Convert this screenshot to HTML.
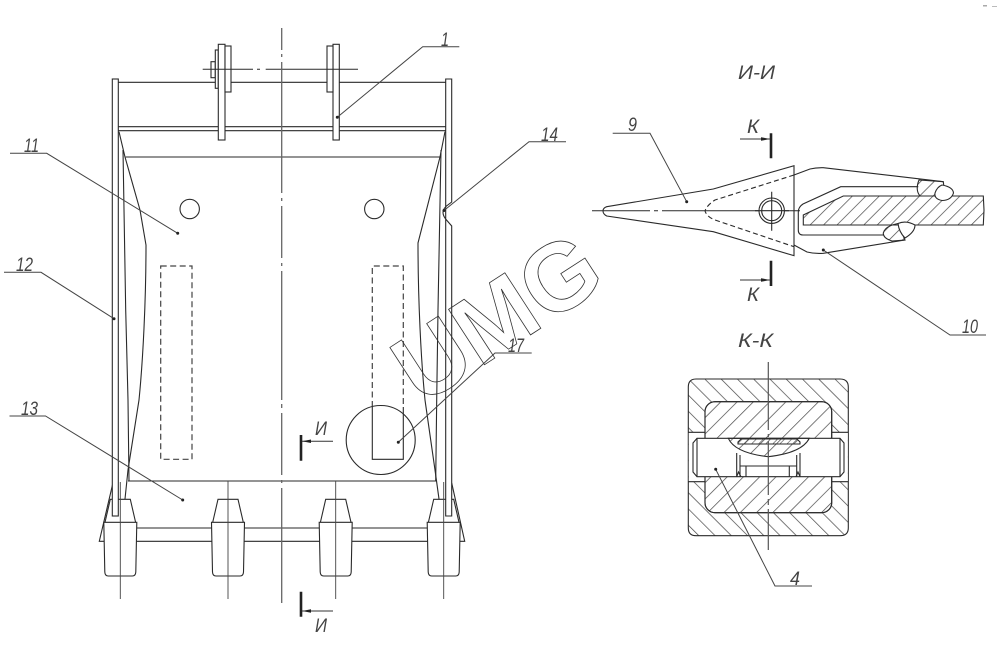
<!DOCTYPE html>
<html><head><meta charset="utf-8"><style>
html,body{margin:0;padding:0;background:#fff}
svg{display:block}
text{font-family:"Liberation Sans",sans-serif;font-style:italic;fill:#444;font-size:19px}
</style></head><body>
<svg width="1000" height="646" viewBox="0 0 1000 646" xmlns="http://www.w3.org/2000/svg">
<defs>
<pattern id="h1" width="9.5" height="9.5" patternUnits="userSpaceOnUse" patternTransform="rotate(45)"><line x1="0" y1="0" x2="0" y2="9.5" stroke="#444" stroke-width="1.4"/></pattern>
<pattern id="h2" width="11.5" height="11.5" patternUnits="userSpaceOnUse" patternTransform="rotate(45)"><line x1="0" y1="0" x2="0" y2="11.5" stroke="#444" stroke-width="1.4"/></pattern>
<pattern id="h3" width="11.5" height="11.5" patternUnits="userSpaceOnUse" patternTransform="rotate(-45)"><line x1="0" y1="0" x2="0" y2="11.5" stroke="#444" stroke-width="1.4"/></pattern>
<pattern id="h4" width="5" height="5" patternUnits="userSpaceOnUse" patternTransform="rotate(45)"><line x1="0" y1="0" x2="0" y2="5" stroke="#444" stroke-width="1.2"/></pattern>
<path id="tooth" d="M-10 499.3H10L15.3 522.3H-15.3ZM-16.5 522.3H16.5L15.5 572Q15.3 576 12 576H-12Q-15.3 576-15.5 572Z" fill="#fff"/>
</defs>
<rect width="1000" height="646" fill="#fff"/>

<!-- bucket -->
<g fill="none" stroke="#2a2a2a" stroke-width="1.1">
<path d="M118 82.3H446M118 126.7H446M118 130.7H446M125.6 157H440"/>
<path d="M112.7 484L99.3 541.3H105M451.7 483L464.7 541.3H459"/>
<path d="M128 481H436M120 528H444M105 541.3H459"/>
<path d="M119 131.7L125 157L140 210L146 245C146 300 143 360 139 400L128 470L125 499"/>
<path d="M445 131.7L440 157L418 243C418 300 421 360 425 400L435 470L439 499"/>
<path d="M123 150L125.7 310L128 400L129 481M441 150L438 310L436.7 400L435.7 481"/>
<circle cx="189.7" cy="209" r="9.7"/><circle cx="374.3" cy="209" r="9.7"/>
<rect x="160.7" y="266" width="31.3" height="193.3" stroke-dasharray="6 3.5" stroke="#444" stroke-width="1.2"/>
<path d="M372.3 407V266H403.3V407" stroke-dasharray="6 3.5" stroke="#444" stroke-width="1.2"/>
<path d="M372.3 407V459.3H403.3V407"/>
<circle cx="380.7" cy="440" r="34.5"/>
<g fill="#fff">
<use href="#tooth" x="120.3" stroke="#2a2a2a"/><use href="#tooth" x="228" stroke="#2a2a2a"/><use href="#tooth" x="335.7" stroke="#2a2a2a"/><use href="#tooth" x="443.7" stroke="#2a2a2a"/>
<rect x="112.3" y="79" width="6" height="437"/>
<path d="M445.7 79H451.7V202L446.5 206Q443 209 443 212.5Q443 216 446.5 220L451.7 226V516H445.7Z"/>
</g>
<path d="M120.3 482V599M228 481V599M335.7 481V599M443.7 482V599" stroke="#444" stroke-width="0.9"/>
<!-- lugs -->
<g fill="#fff">
<rect x="211" y="61.7" width="4.3" height="16"/><rect x="215.3" y="50" width="3" height="38.3"/>
<rect x="218.3" y="44.3" width="6.7" height="95.7"/><rect x="225" y="46" width="6" height="46"/>
<rect x="333" y="44.3" width="6.3" height="95.7"/><rect x="327" y="46" width="6" height="46"/>
</g>
<path d="M202.7 69.3H253M257 69.3H260M265.7 69.3H358" stroke-width="1"/>
<path d="M281.7 28V50M281.7 54V57M281.7 62V193M281.7 198V201M281.7 206V258M281.7 263V266M281.7 271V400M281.7 404V408M281.7 413V475M281.7 480V483M281.7 488V603" stroke="#666" stroke-width="1.3"/>
</g>

<!-- section marks И -->
<g fill="none" stroke="#333" stroke-width="1">
<path d="M301 435V460.7M301 591.7V616.7" stroke-width="2.6" stroke="#222"/>
<path d="M333 441.3H302M333 611H302"/>
</g>
<path d="M302 441.3L311 439.5V443ZM302 611L311 609.2V612.8Z" fill="#222"/>
<text x="315" y="435" textLength="12" lengthAdjust="spacingAndGlyphs">И</text><text x="315" y="632" textLength="12" lengthAdjust="spacingAndGlyphs">И</text>

<!-- adapter -->
<g fill="none" stroke="#2a2a2a" stroke-width="1.1">
<path d="M794 175L810 169Q816 167.5 823.3 167.7L943.3 181.7M794 245L807 252Q815 254 823.3 253.3L905 240"/>
<path d="M803.3 225V215L843.3 196H983.3L984 210L983.3 225Z" fill="url(#h1)"/>
<path d="M918.3 186.7H840.7L803 204Q798.3 207 798.3 212V230Q798.3 235 803 235H883.3"/>
<path d="M919 180L943.3 181.7L945 196H920Q915 190 919 180Z" fill="url(#h1)"/>
<path d="M883.3 233Q885 226 898 223.5L905 240L892 241Q883 238 883.3 233Z" fill="url(#h1)"/>
<path d="M942 185Q953 187 953.5 193Q951 200.5 942 200.5Q934 199 935 193Q937 187 942 185Z" fill="#fff"/>
<path d="M898 223.5Q906 220 915 225Q915 232 905 238Q899 232 898 223.5Z" fill="#fff"/>
<!-- tooth 9 -->
<path d="M606.7 206.7L713.3 189L794 165.7V255.7L713.3 231.7L606.7 216Q603 214 603 211Q603 208 606.7 206.7Z" fill="#fff"/>
<path d="M794 175L715 200Q707 205 705 211Q707 217 715 220L794 246.7" stroke-dasharray="5 3"/>
<path d="M592 210.7H650M654 210.7H658M662 210.7H794M794 210.7H800" stroke-width="1"/>
<circle cx="771.7" cy="210.7" r="12.7" fill="#fff"/><circle cx="771.7" cy="210.7" r="10"/>
<path d="M771.7 191.7V230.7M755 210.7H789"/>
<path d="M771 133.3V158.3M771 260.7V286" stroke-width="2.6" stroke="#222"/>
<path d="M740 139H770M740 280H770" stroke="#333"/>
</g>
<path d="M770 139L761 137.2V140.8ZM770 280L761 278.2V281.8Z" fill="#222"/>
<text x="747" y="133" textLength="12" lengthAdjust="spacingAndGlyphs">К</text><text x="747" y="301" textLength="12" lengthAdjust="spacingAndGlyphs">К</text>

<!-- К-К section -->
<g fill="none" stroke="#2a2a2a" stroke-width="1.1">
<path d="M696 379H840Q848.3 379 848.3 387V528Q848.3 535.7 840 535.7H696Q688.3 535.7 688.3 528V387Q688.3 379 696 379Z" fill="url(#h3)"/>
<rect x="688.8" y="432.3" width="159" height="49.4" fill="#fff" stroke="none"/>
<path d="M688.3 432.3H705M688.3 481.7H705M831.7 432.3H848.3M831.7 481.7H848.3"/>
<rect x="705" y="401.7" width="126.7" height="111" rx="10" fill="#fff"/>
<rect x="705" y="401.7" width="126.7" height="111" rx="10" fill="url(#h2)"/>
<path d="M693 443L697 438.3H840L844 443V472L840 476.7H697L693 472Z" fill="#fff"/>
<path d="M728.3 438.3Q735 453 768.3 456.7Q802 453 809.3 438.3Z" fill="url(#h2)"/>
<path d="M738 442L741 439H797L800 442V444H738Z" fill="url(#h4)"/>
<path d="M736.7 453V476.7M740 455V476.7M796.7 455V476.7M800 453V476.7M740 466H796.7M746 466V476.7M789.3 466V476.7"/>
<path d="M736.7 476.7L738.5 472L741 476.7M796 476.7L798 472L800 476.7"/>
<path d="M697 438.3V476.7M840 438.3V476.7"/>
<path d="M768.3 362V430M768.3 434V437M768.3 441V495M768.3 499V505M768.3 509V550" stroke="#555" stroke-width="1.2"/>
</g>

<!-- leaders -->
<g fill="none" stroke="#444" stroke-width="1">
<path d="M337.3 117.3L422.7 46.7H459.3"/>
<path d="M10 153.3H46.7L177.7 233.3"/>
<path d="M4 272.3H41L114 318.7"/>
<path d="M9.5 416H45.5L182.7 500"/>
<path d="M444 210.5L529 141.7H566"/>
<path d="M398.3 442.3L495 353H531.7"/>
<path d="M686.7 201.7L650 133.3H612.7"/>
<path d="M823.3 250L950 335H986"/>
<path d="M715.7 469.3L775 586H812"/>
</g>
<g fill="#222">
<circle cx="337.3" cy="117.3" r="1.5"/><circle cx="177.7" cy="233.3" r="1.5"/><circle cx="114" cy="318.7" r="1.5"/><circle cx="182.7" cy="500" r="1.5"/><circle cx="444" cy="210.5" r="1.5"/><circle cx="398.3" cy="442.3" r="1.5"/><circle cx="686.7" cy="201.7" r="1.5"/><circle cx="823.3" cy="250" r="1.5"/><circle cx="715.7" cy="469.3" r="1.5"/>
</g>
<text x="441" y="46" textLength="8" lengthAdjust="spacingAndGlyphs">1</text>
<text x="24" y="152" textLength="15" lengthAdjust="spacingAndGlyphs">11</text>
<text x="16" y="271" textLength="17" lengthAdjust="spacingAndGlyphs">12</text>
<text x="21" y="415" textLength="17" lengthAdjust="spacingAndGlyphs">13</text>
<text x="541" y="141" textLength="17" lengthAdjust="spacingAndGlyphs">14</text>
<text x="508" y="352" textLength="16" lengthAdjust="spacingAndGlyphs">17</text>
<text x="628" y="131" textLength="9" lengthAdjust="spacingAndGlyphs">9</text>
<text x="962" y="333" textLength="16" lengthAdjust="spacingAndGlyphs">10</text>
<text x="790" y="585" textLength="10" lengthAdjust="spacingAndGlyphs">4</text>
<text x="738" y="79" textLength="37" lengthAdjust="spacingAndGlyphs">И-И</text>
<text x="738" y="347" textLength="35" lengthAdjust="spacingAndGlyphs">К-К</text>

<!-- watermark -->
<text transform="translate(421 406) rotate(-33)" style="font-size:96px;font-style:normal;font-weight:700;fill:none;stroke:#333;stroke-width:0.8">UMG</text>

<rect x="983" y="5" width="4" height="1.5" fill="#aaa"/><rect x="992" y="6" width="5" height="1" fill="#bbb"/>
</svg>
</body></html>
